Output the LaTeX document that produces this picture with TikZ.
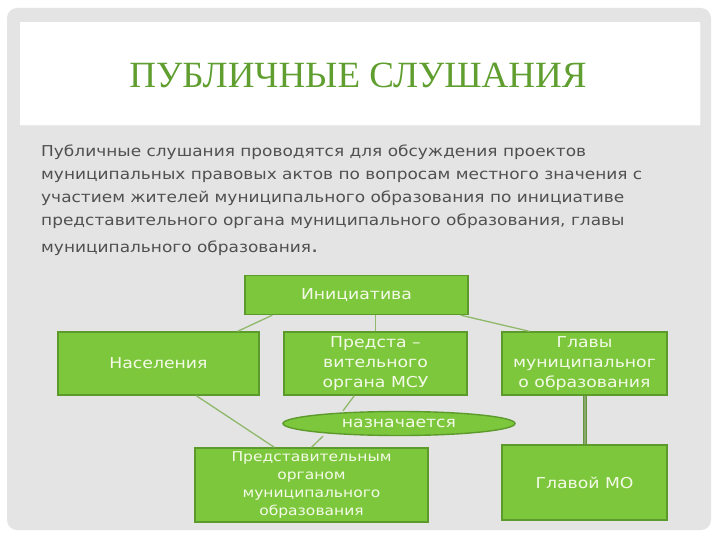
\documentclass[tikz,border=0pt]{standalone}
\usepackage{fontspec}
\setmainfont{DejaVu Sans}
\newfontfamily\bodyfont[FakeStretch=1.13]{DejaVu Sans}
\newfontfamily\boxfont[FakeStretch=1.15]{DejaVu Sans}
\newfontfamily\titlefont{Liberation Serif}
\usetikzlibrary{shapes.geometric,calc}
\definecolor{panelgray}{HTML}{E4E4E4}
\definecolor{boxgreen}{HTML}{7DC73D}
\definecolor{boxedge}{HTML}{5C9A2C}
\definecolor{titlegreen}{HTML}{5F9E2F}
\definecolor{linkgreen}{HTML}{8FB86A}
\definecolor{bodygray}{HTML}{505050}
\definecolor{nodetext}{HTML}{F4FAE8}
\begin{document}
\begin{tikzpicture}[x=1pt,y=-1pt,
  gbox/.style={draw=boxedge, line width=1.4pt, fill=boxgreen, text=nodetext,
    font=\boxfont\fontsize{15}{20}\selectfont, align=center, inner sep=0pt},
  link/.style={draw=linkgreen, line width=1.3pt},
  thicklink/.style={draw=boxedge!80!gray, double=linkgreen!70!gray, double distance=1.6pt, line width=0.8pt}
]
\useasboundingbox (0,0) rectangle (720,540);
\fill[white] (0,0) rectangle (720,540);
% panel
\fill[panelgray, rounded corners=10pt] (7,8) rectangle (711,530);
% title box
\fill[black!8] (21,23) rectangle (701,126);
\fill[white] (20,22) rectangle (700,125);
\node[font=\titlefont\fontsize{37}{40}\selectfont, text=titlegreen] (title) at (358,75) {ПУБЛИЧНЫЕ СЛУШАНИЯ};
% body text
\node[anchor=north west, inner sep=0pt, align=left, text=bodygray,
  font=\bodyfont\fontsize{15}{23}\selectfont] (body) at (41,145)
 {Публичные слушания проводятся для обсуждения проектов\\
  муниципальных правовых актов по вопросам местного значения с\\
  участием жителей муниципального образования по инициативе\\
  представительного органа муниципального образования, главы\\[4pt]
  муниципального образования{\fontsize{20}{23}\selectfont.}};
% nodes
\node[gbox, minimum width=223pt, minimum height=39pt] (init) at (356.5,295) {Инициатива};
\node[gbox, minimum width=201pt, minimum height=63pt] (nas) at (158.5,363.5) {Населения};
\node[gbox, minimum width=183pt, minimum height=63pt] (pred) at (375.5,363.5) {Предста –\\вительного\\органа МСУ};
\node[gbox, minimum width=165pt, minimum height=63pt] (glav) at (584.5,363.5) {Главы\\муниципальног\\о образования};
\node[gbox, ellipse, minimum width=232pt, minimum height=24pt] (naz) at (399,423.5) {назначается};
\node[gbox, minimum width=233pt, minimum height=74pt, font=\boxfont\fontsize{13.5}{18}\selectfont] (porg) at (311.5,485) {Представительным\\органом\\муниципального\\образования};
\node[gbox, minimum width=165pt, minimum height=75pt] (glmo) at (584.5,482.5) {Главой МО};
% connectors
\draw[link] ($(init.south west)+(28,0)$) -- ($(nas.north east)+(-22,0)$);
\draw[link] (init.south -| pred.north) -- (pred.north);
\draw[link] ($(init.south east)+(-8,0)$) -- ($(glav.north west)+(28,0)$);
\draw[link] ($(nas.south west)+(139,0)$) -- ($(porg.north west)+(80,0)$);
\draw[link] ($(pred.south west)+(71,0)$) -- ($(naz.north)+(-56,0)$);
\draw[link] ($(naz.south)+(-76,0)$) -- ($(porg.north)+(0,0)$);
\draw[thicklink] ($(glav.south)+(0.5,0)$) -- ($(glmo.north)+(0.5,0)$);
\end{tikzpicture}
\end{document}
